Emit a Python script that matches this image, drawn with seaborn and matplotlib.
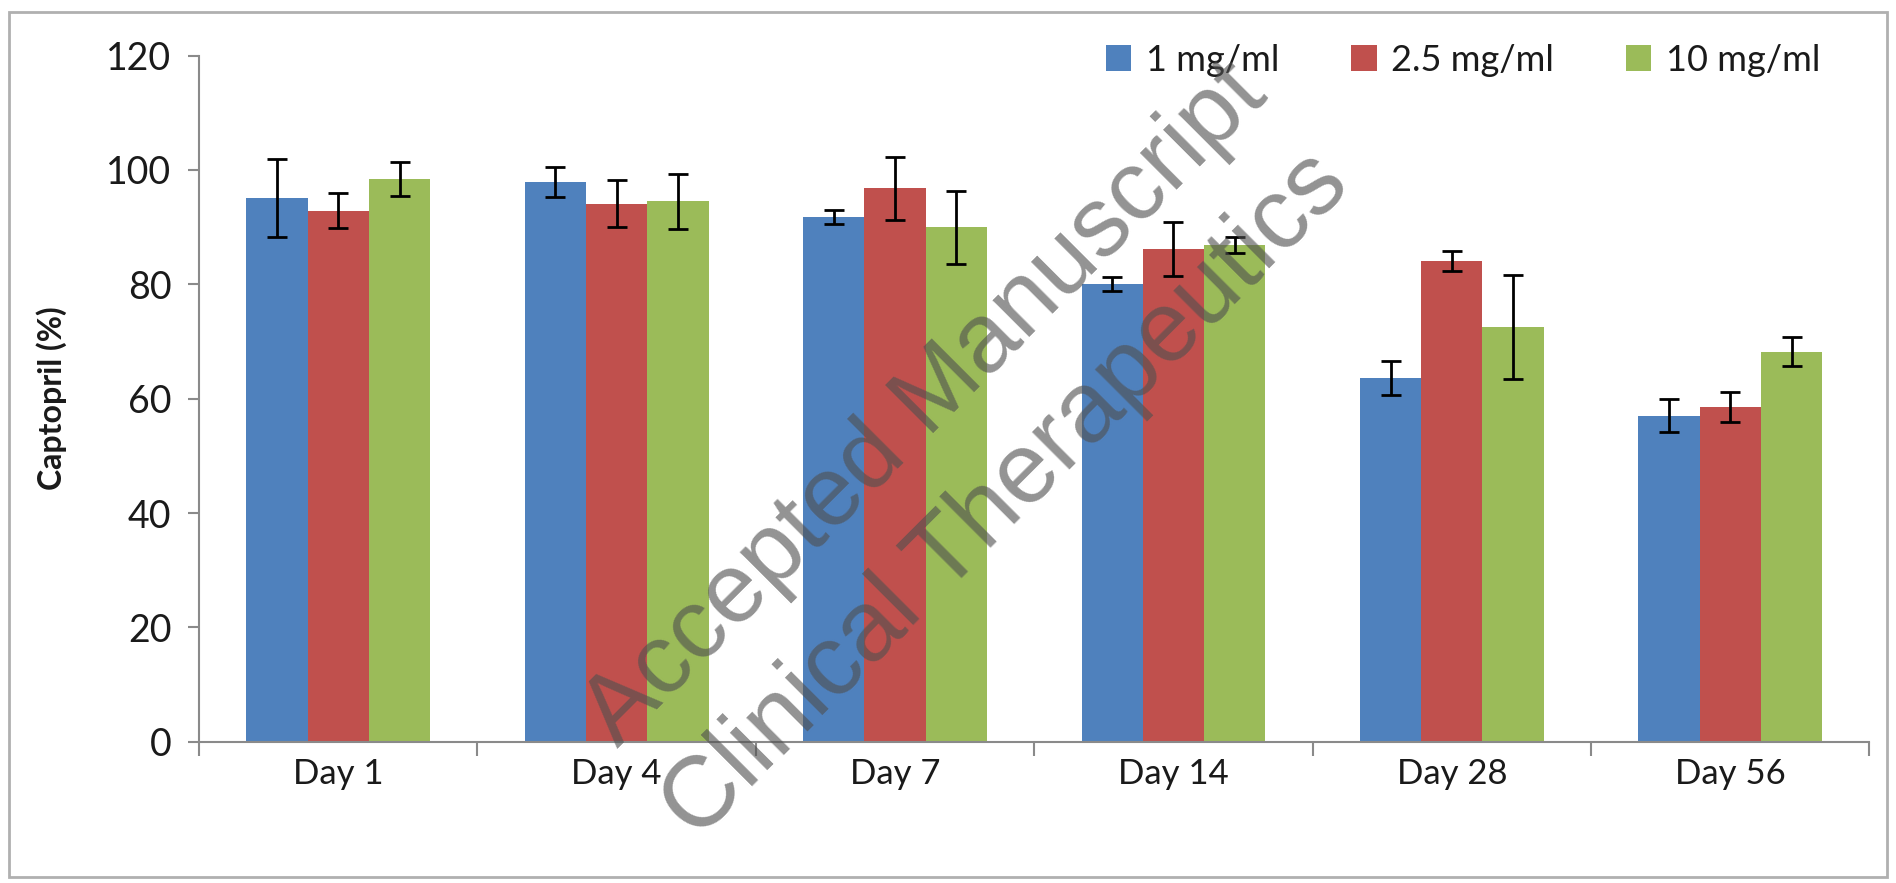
import numpy as np
import pandas as pd
import matplotlib
matplotlib.use("Agg")
import matplotlib.pyplot as plt
import seaborn as sns
from matplotlib.patches import Rectangle

# values
days = ["Day 1", "Day 4", "Day 7", "Day 14", "Day 28", "Day 56"]
concs = ["1 mg/ml", "2.5 mg/ml", "10 mg/ml"]
mean_1 = [95.1, 97.9, 91.8, 80.1, 63.6, 57.0]
mean_25 = [92.9, 94.1, 96.8, 86.2, 84.1, 58.6]
mean_10 = [98.4, 94.5, 90.0, 86.9, 72.5, 68.2]
sd_1 = [6.9, 2.6, 1.2, 1.2, 3.0, 2.9]
sd_25 = [3.1, 4.1, 5.5, 4.7, 1.7, 2.6]
sd_10 = [3.0, 4.8, 6.4, 1.4, 9.1, 2.5]
colors = ["#4F81BD", "#C0504D", "#9BBB59"]

rows = []
for c, m, s in zip(concs, [mean_1, mean_25, mean_10], [sd_1, sd_25, sd_10]):
    for d, mv, sv in zip(days, m, s):
        rows.append({"day": d, "conc": c, "value": mv, "sd": sv})
df = pd.DataFrame(rows)

sns.set_style("white")
plt.rcParams["font.family"] = ["Lato", "DejaVu Sans"]
plt.rcParams["text.color"] = "#1a1a1a"

fig = plt.figure(figsize=(18.96, 8.83), dpi=100)
ax = fig.add_axes([0.105, 0.160, 0.881, 0.777])

sns.barplot(data=df, x="day", y="value", hue="conc", order=days,
            hue_order=concs, palette=colors, width=0.66, errorbar=None,
            saturation=1, linewidth=0, ax=ax)

# error bars on top of each bar
for cont, sds in zip(ax.containers, [sd_1, sd_25, sd_10]):
    xs = [b.get_x() + b.get_width() / 2 for b in cont]
    ys = [b.get_height() for b in cont]
    ax.errorbar(xs, ys, yerr=sds, fmt="none", ecolor="black",
                elinewidth=2, capsize=7, capthick=2, zorder=3)

ax.set_ylim(0, 120)
ax.set_yticks(range(0, 121, 20))
ax.set_xlim(-0.5, len(days) - 0.5)
ax.set_xticks(np.arange(-0.5, len(days), 1), minor=True)
ax.set_xlabel("")
ax.set_ylabel("Captopril (%)", fontsize=23, fontweight="bold", labelpad=28,
              color="#1a1a1a")

for side in ["top", "right"]:
    ax.spines[side].set_visible(False)
for side in ["left", "bottom"]:
    ax.spines[side].set_color("#8a8a8a")
    ax.spines[side].set_linewidth(1.5)

ax.tick_params(axis="y", direction="out", length=8, width=1.5,
               color="#8a8a8a", labelsize=27, pad=12, left=True,
               labelcolor="#1a1a1a")
ax.tick_params(axis="x", which="major", length=0, labelsize=25, pad=12,
               labelcolor="#1a1a1a")
ax.tick_params(axis="x", which="minor", direction="out", length=10,
               width=1.5, color="#8a8a8a", bottom=True)

handles, labels = ax.get_legend_handles_labels()
ax.legend(handles, labels, ncol=3, frameon=False, fontsize=26,
          loc="upper right", bbox_to_anchor=(0.99, 1.065),
          handlelength=0.7, handleheight=0.7, handletextpad=0.4,
          columnspacing=2.0)

# chart border
fig.patches.append(Rectangle((0.005, 0.007), 0.99, 0.979, transform=fig.transFigure,
                             fill=False, edgecolor="#b0b0b0", linewidth=2))

# watermark
fig.text(0.488, 0.541, "Accepted Manuscript", rotation=45, fontsize=71,
         family="Liberation Sans", color="#505050", alpha=0.62,
         ha="center", va="center", zorder=10)
fig.text(0.531, 0.438, "Clinical Therapeutics", rotation=45, fontsize=72,
         family="Liberation Sans", color="#505050", alpha=0.62,
         ha="center", va="center", zorder=10)

fig.savefig("out.png", dpi=100)
